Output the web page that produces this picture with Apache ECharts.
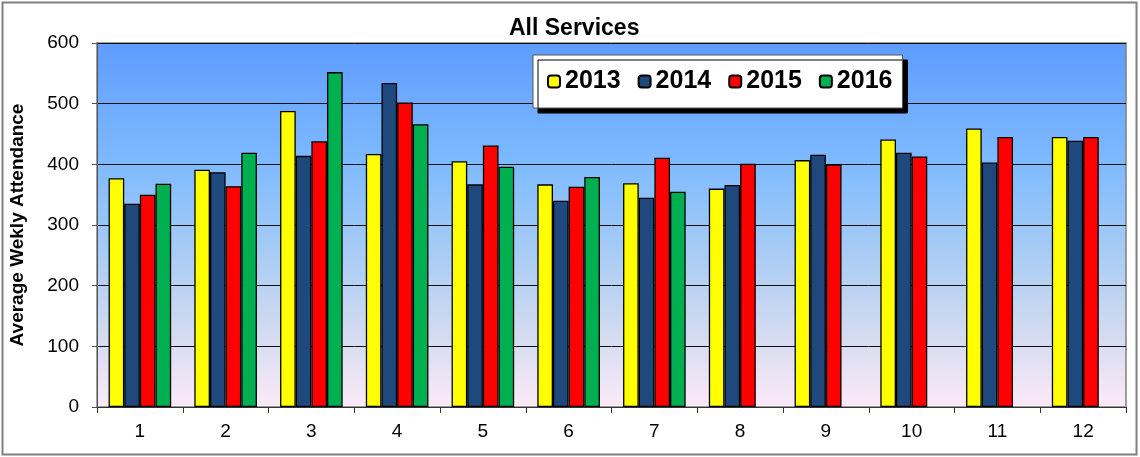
<!DOCTYPE html>
<html>
<head>
<meta charset="utf-8">
<script src="https://cdn.jsdelivr.net/npm/echarts@6/dist/echarts.min.js"></script>
<style>
html,body{margin:0;padding:0;background:#fff;}
#c{width:1140px;height:457px;}
</style>
</head>
<body>
<div id="c"></div>
<script>
const months = ['1','2','3','4','5','6','7','8','9','10','11','12'];
const years = ['2013','2014','2015','2016'];
const y2013 = [377, 391, 488, 417, 405, 367, 369, 360, 407, 441, 459, 445];
const y2014 = [335, 387, 414, 534, 367, 340, 345, 366, 416, 419, 403, 439];
const y2015 = [350, 364, 438, 502, 431, 363, 411, 401, 400, 413, 445, 445];
const y2016 = [368, 419, 552, 466, 396, 379, 355, null, null, null, null, null];
const yTicks = [0, 100, 200, 300, 400, 500, 600];
const seriesColors = ['#FFFF00', '#1F497D', '#FF0000', '#00B050'];
const allData = [y2013, y2014, y2015, y2016];

const chart = echarts.init(document.getElementById('c'));
const font = 'Liberation Sans, Arial, sans-serif';

chart.setOption({
  animation: false,
  backgroundColor: '#ffffff',
  textStyle: { fontFamily: font },
  title: {
    text: 'All Services',
    left: 509, top: 17, padding: 0,
    textStyle: { fontFamily: font, fontWeight: 'bold', fontSize: 23, color: '#000' }
  },
  graphic: [{
    type: 'rect', silent: true, z: -10,
    shape: { x: 2.5, y: 2.5, width: 1134, height: 452 },
    style: { fill: 'none', stroke: '#808080', lineWidth: 2 }
  }],
  legend: {
    data: years,
    left: 533, top: 55,
    padding: [14, 10, 14, 14],
    itemWidth: 12, itemHeight: 12, itemGap: 17,
    backgroundColor: '#ffffff',
    borderColor: '#555', borderWidth: 1,
    shadowColor: '#000', shadowBlur: 0, shadowOffsetX: 5, shadowOffsetY: 5,
    textStyle: { fontFamily: font, fontWeight: 'bold', fontSize: 25, color: '#000' }
  },
  grid: {
    left: 97, right: 14, top: 43, bottom: 50,
    show: true,
    borderColor: '#808080', borderWidth: 1.5,
    backgroundColor: new echarts.graphic.LinearGradient(0, 0, 0, 1, [
      { offset: 0, color: '#5E9CFF' },
      { offset: 0.33, color: '#7EBAFF' },
      { offset: 0.55, color: '#A3CAF5' },
      { offset: 0.8, color: '#D3DBF0' },
      { offset: 1, color: '#FCEAF8' }
    ])
  },
  xAxis: {
    type: 'category',
    data: months,
    axisLine: { lineStyle: { color: '#333', width: 1 } },
    axisTick: { show: true, length: 6, alignWithLabel: false, lineStyle: { color: '#333' } },
    axisLabel: { margin: 15, fontSize: 19, color: '#000', fontFamily: font }
  },
  yAxis: {
    type: 'value',
    min: yTicks[0], max: yTicks[yTicks.length - 1], interval: 100,
    name: 'Average Wekly Attendance',
    nameLocation: 'middle', nameGap: 70,
    nameTextStyle: { fontFamily: font, fontWeight: 'bold', fontSize: 19, color: '#000' },
    axisLine: { show: true, lineStyle: { color: '#555', width: 1 } },
    axisTick: { show: true, length: 5, lineStyle: { color: '#555' } },
    axisLabel: { margin: 18, fontSize: 19, color: '#000', fontFamily: font },
    splitLine: { show: true, lineStyle: { color: '#111', width: 1 } }
  },
  series: years.map((y, i) => ({
    name: y,
    type: 'bar',
    data: allData[i],
    barGap: '0%',
    barCategoryGap: '27%',
    itemStyle: { color: seriesColors[i], borderColor: '#000', borderWidth: 1.3 }
  }))
});
</script>
</body>
</html>
